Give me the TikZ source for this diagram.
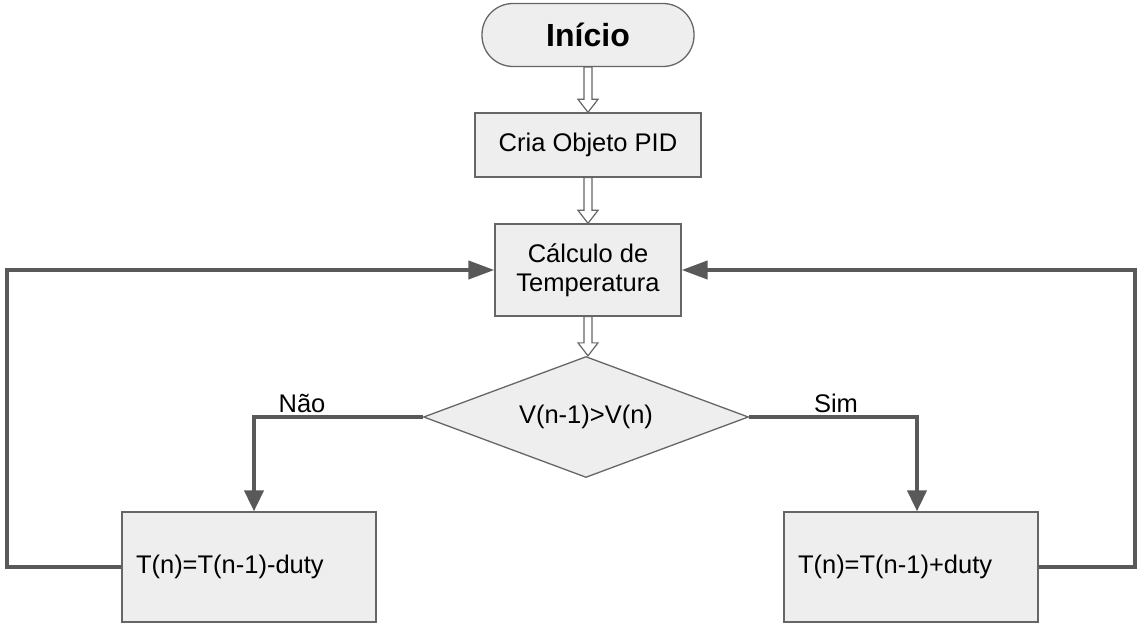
\documentclass[tikz,border=0pt]{standalone}
\usepackage{fontspec}
\setmainfont{Liberation Sans}
\usetikzlibrary{shapes.geometric,arrows.meta,calc}
\definecolor{boxfill}{HTML}{EEEEEE}
\definecolor{boxline}{HTML}{666666}
\definecolor{conn}{HTML}{595959}
\tikzset{
  base/.style={draw=boxline, fill=boxfill, line width=1.3pt, font=\fontsize{25.5}{29}\selectfont, inner sep=0pt},
  procbox/.style={base, rectangle, align=center},
  termbox/.style={base, rectangle, rounded corners=31pt},
  decbox/.style={base, diamond, aspect=2.69},
  leftbox/.style={base, rectangle, align=left, inner xsep=14pt, text width=226pt, minimum height=110pt},
  conline/.style={draw=conn, line width=4pt},
  vtip/.style={-{Triangle[length=21pt,width=19pt]}},
  htip/.style={-{Triangle[length=26pt,width=18pt]}},
  harr/.style={draw=boxline, fill=white, line width=1.2pt, line join=miter},
  lab/.style={font=\fontsize{25.5}{29}\selectfont, anchor=base, inner sep=0pt}
}
\newcommand\hollowarrow[2]{%
  \draw[harr] ($(#1)+(-4,0)$) -- ($(#2)+(-4,-13)$) -- ($(#2)+(-10,-13)$) -- (#2)
    -- ($(#2)+(10,-13)$) -- ($(#2)+(4,-13)$) -- ($(#1)+(4,0)$) -- cycle;}
\begin{document}
\begin{tikzpicture}[x=1pt,y=-1pt]
\useasboundingbox (0,0) rectangle (1144,631);
\node[termbox, minimum width=212pt, minimum height=63pt, font=\fontsize{32}{36}\selectfont\bfseries] (ini) at (588,35) {Início};
\node[procbox, minimum width=226pt, minimum height=64pt] (cria) at (588,145) {Cria Objeto PID};
\node[procbox, minimum width=186pt, minimum height=92pt] (calc) at (588,270) {Cálculo de\\Temperatura};
\node[decbox, minimum width=325pt, minimum height=121pt] (dec) at (586,417) {V(n-1)>V(n)};
\node[leftbox] (tm) at (249,567) {T(n)=T(n-1)-duty};
\node[leftbox] (tp) at (911,567) {T(n)=T(n-1)+duty};

\coordinate (dectop) at (calc.south |- dec.north);
\hollowarrow{ini.south}{cria.north}
\hollowarrow{cria.south}{calc.north}
\hollowarrow{calc.south}{dectop}

\coordinate (nl) at (254,417);
\coordinate (sr) at (917,417);
\draw[conline, vtip] (dec.west) -- (nl) -- (nl |- tm.north);
\draw[conline, vtip] (dec.east) -- (sr) -- (sr |- tp.north);

\coordinate (lb) at (7,567);
\coordinate (lt) at (7,270);
\coordinate (rb) at (1135,567);
\coordinate (rt) at (1135,270);
\draw[conline, htip, line join=miter] (tm.west) -- (lb) -- (lt) -- (calc.west);
\draw[conline, htip, line join=miter] (tp.east) -- (rb) -- (rt) -- (calc.east);

\node[lab] (nao) at (302,412) {Não};
\node[lab] (sim) at (836,412) {Sim};
\end{tikzpicture}
\end{document}
